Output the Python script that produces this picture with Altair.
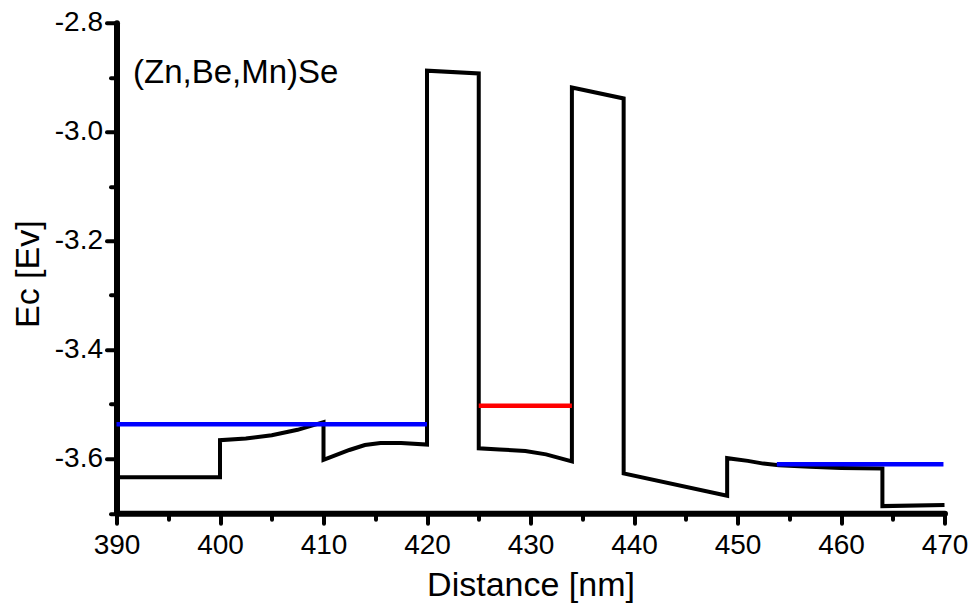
import altair as alt
import pandas as pd

# Conduction band profile (Distance [nm], Ec [eV])
profile_x = [390, 400, 400, 402.5, 405, 407.5, 410, 410, 411, 412.5, 414, 415.5, 417.5, 420,
             420, 425, 425, 427, 429.5, 431.5, 434, 434, 439, 439, 449, 449, 451, 452.5,
             454, 457, 460, 464, 464, 470]
profile_y = [-3.634, -3.634, -3.566, -3.563, -3.557, -3.547, -3.533, -3.602, -3.595, -3.584,
             -3.575, -3.571, -3.571, -3.574, -2.888, -2.893, -3.581, -3.583, -3.586, -3.592,
             -3.605, -2.919, -2.939, -3.627, -3.668, -3.599, -3.604, -3.609, -3.612, -3.615,
             -3.617, -3.618, -3.687, -3.685]

# Level lines
seg_x0 = [390, 425, 453.8]
seg_x1 = [420, 434, 469.9]
seg_y = [-3.537, -3.503, -3.610]
seg_color = ["#0000FF", "#FF0000", "#0000FF"]

x_ticks = [390, 395, 400, 405, 410, 415, 420, 425, 430, 435, 440, 445, 450, 455, 460, 465, 470]
y_ticks = [-3.7, -3.6, -3.5, -3.4, -3.3, -3.2, -3.1, -3.0, -2.9, -2.8]
annotation = "(Zn,Be,Mn)Se"

FONT = "Liberation Sans, Arial, Helvetica, sans-serif"

prof = pd.DataFrame({"x": profile_x, "y": profile_y, "i": list(range(len(profile_x)))})
segs = pd.DataFrame({"x0": seg_x0, "x1": seg_x1, "y": seg_y, "c": seg_color})

xscale = alt.Scale(domain=[390, 470], nice=False, zero=False)
yscale = alt.Scale(domain=[-3.7, -2.8], nice=False, zero=False)

xaxis = alt.Axis(
    values=x_ticks,
    title="Distance [nm]",
    labelExpr="datum.value % 10 === 0 ? datum.label : ''",
    tickSize={"condition": {"test": "datum.value % 10 === 0", "value": 10}, "value": 6},
    labelFontSize=28, labelFont=FONT, labelPadding=8, labelFlush=False, labelOverlap=False,
    titleFontSize=34, titleFont=FONT, titleFontWeight="normal",
    titleY=82, titleBaseline="alphabetic",
    domainWidth=6, tickWidth=4, domainColor="black", tickColor="black", labelColor="black",
    titleColor="black", grid=False, domainCap="round", tickCap="round",
)
yaxis = alt.Axis(
    values=y_ticks,
    title="Ec [Ev]",
    labelExpr="abs(round(datum.value * 10)) % 2 === 0 ? replace(format(datum.value, '.1f'), '\u2212', '-') : ''",
    tickSize={"condition": {"test": "abs(round(datum.value * 10)) % 2 === 0", "value": 10}, "value": 6},
    labelFontSize=28, labelFont=FONT, labelPadding=4, labelOverlap=False, labelFlush=False,
    titleFontSize=34, titleFont=FONT, titleFontWeight="normal",
    titleX=-88, titleY=251, titleAngle=-90, titleBaseline="middle", titleAlign="center",
    domainWidth=6, tickWidth=4, domainColor="black", tickColor="black", labelColor="black",
    titleColor="black", grid=False, domainCap="round", tickCap="round",
)

line = alt.Chart(prof).mark_line(color="black", strokeWidth=4, strokeJoin="miter").encode(
    x=alt.X("x:Q", scale=xscale, axis=xaxis),
    y=alt.Y("y:Q", scale=yscale, axis=yaxis),
    order="i:Q",
)

levels = alt.Chart(segs).mark_rule(strokeWidth=4.5).encode(
    x=alt.X("x0:Q", scale=xscale),
    x2="x1:Q",
    y=alt.Y("y:Q", scale=yscale),
    color=alt.Color("c:N", scale=None, legend=None),
)

label = alt.Chart(pd.DataFrame({"t": [annotation]})).mark_text(
    align="left", baseline="alphabetic", fontSize=33, font=FONT, color="black"
).encode(x=alt.value(16.5), y=alt.value(60), text="t:N")

chart = alt.layer(line, levels, label).properties(
    width=828, height=490.5,
    autosize=alt.AutoSizeParams(type="none"),
    padding={"left": 116.5, "top": 22.7, "right": 27.5, "bottom": 93.8},
    background="white",
).configure_view(stroke=None)

chart.save("out.html", embed_options={"renderer": "svg", "actions": False})
